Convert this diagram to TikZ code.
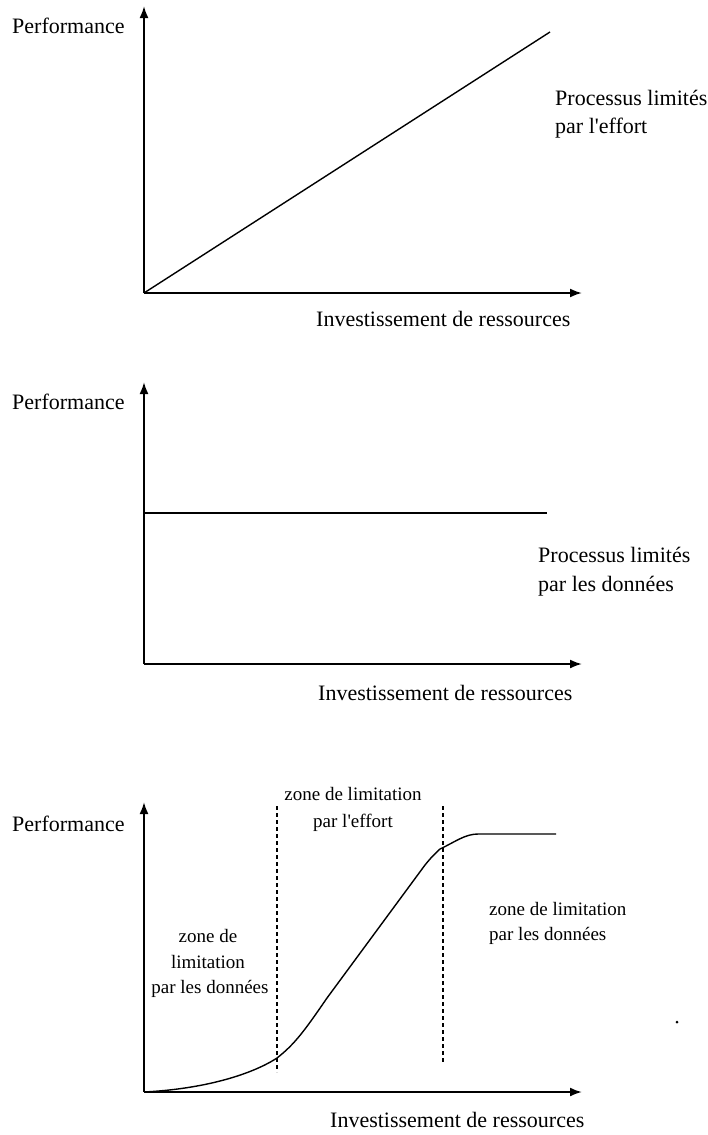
\documentclass[tikz,border=0pt]{standalone}
\usepackage{fontspec}
\setmainfont{Liberation Serif}
\usetikzlibrary{arrows.meta,positioning,calc}

\begin{document}
\begin{tikzpicture}[x=1pt, y=-1pt, >={Latex[length=12pt,width=9pt]},
    axis/.style={->, line width=2pt},
    curve/.style={line width=1.4pt},
    limit/.style={line width=1.6pt, dash pattern=on 4pt off 3pt},
    lbl/.style={font=\fontsize{22}{28}\selectfont, inner sep=0pt, anchor=base west},
    zone/.style={font=\fontsize{19}{25}\selectfont, inner sep=0pt, align=center}]
\useasboundingbox (0,0) rectangle (707,1135);

% First chart: limited by effort
\coordinate (o1) at (144,293);
\coordinate (y1) at (144,6);
\coordinate (x1) at (582,293);
\coordinate (e1) at (550,32);
\draw[axis] (o1) -- (y1);
\draw[axis] (o1) -- (x1);
\draw[curve] (o1) -- (e1);
\node[lbl] (p1) at (12,33) {Performance};
\node[lbl] (q1) at (555,105) {Processus limités};
\node[lbl] (r1) at (555,133) {par l\textquotesingle effort};
\node[lbl] (i1) at (316,326) {Investissement de ressources};

% Second chart: limited by data
\coordinate (o2) at (144,664);
\coordinate (y2) at (144,382);
\coordinate (x2) at (582,664);
\coordinate (a2) at (144,513);
\coordinate (e2) at (547,513);
\draw[axis] (o2) -- (y2);
\draw[axis] (o2) -- (x2);
\draw[curve] (a2) -- (e2);
\node[lbl] (p2) at (12,409) {Performance};
\node[lbl] (q2) at (538,562) {Processus limités};
\node[lbl] (r2) at (538,591) {par les données};
\node[lbl] (i2) at (318,700) {Investissement de ressources};

% Third chart: mixed zones
\coordinate (o3) at (144,1092);
\coordinate (y3) at (144,802);
\coordinate (x3) at (582,1092);
\coordinate (k1) at (277,1058);
\coordinate (k2) at (440,849);
\coordinate (e3) at (556,834);
\draw[axis] (o3) -- (y3);
\draw[axis] (o3) -- (x3);
\draw[curve] (o3) .. controls (220,1088) and (262,1068) .. (k1)
    .. controls (295,1044) and (305,1030) .. (327,998) -- (425,865)
    .. controls (433,855) and (438,851) .. (k2)
    .. controls (455,842) and (465,834) .. (478,834) -- (e3);

% zone limits (dashed)
\coordinate (d1) at (277,806);
\coordinate (d2) at (277,1072);
\coordinate (d3) at (443,806);
\coordinate (d4) at (443,1064);
\draw[limit] (d1) -- (d2);
\draw[limit] (d3) -- (d4);

\node[lbl] (p3) at (12,831) {Performance};
\node[zone, anchor=base] (z1) at (353,800) {zone de limitation};
\node[zone, anchor=base] (z2) at (353,827) {par l\textquotesingle effort};
\node[zone, anchor=base] (z3) at (208,942) {zone de};
\node[zone, anchor=base] (z4) at (208,968) {limitation};
\node[zone, anchor=base] (z5) at (210,993) {par les données};
\node[zone, anchor=base west] (z6) at (489,915) {zone de limitation};
\node[zone, anchor=base west] (z7) at (489,940) {par les données};
\node[lbl] (i3) at (330,1127) {Investissement de ressources};

% speck
\fill (677,1022) circle (1.5);
\end{tikzpicture}
\end{document}
